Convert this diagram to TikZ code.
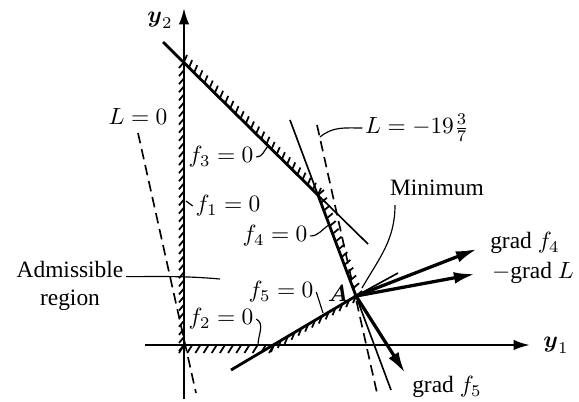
\documentclass[tikz,border=0pt]{standalone}
\usepackage{amsmath}
\usepackage{fontspec}
\setmainfont{Liberation Serif}
\usetikzlibrary{calc,arrows.meta}

% short strokes along a constraint line: ends, count, offset
\newcommand{\hatchseg}[4]{%
  \foreach \k in {0,...,#3}{
    \pgfmathsetmacro\hpos{\k/#3}
    \draw[hatch] ($(#1)!\hpos!(#2)$) -- ++(#4);
  }}

\begin{document}
\begin{tikzpicture}[x=0.15mm,y=-0.15mm,>=latex,
    axis/.style={line width=1pt,-{Latex[length=7pt,width=4.5pt]}},
    cons/.style={line width=1.2pt},
    thinline/.style={line width=0.7pt},
    hatch/.style={line width=0.75pt},
    level/.style={line width=0.7pt,dash pattern=on 4.5pt off 2.5pt},
    lead/.style={line width=0.5pt},
    grad/.style={line width=1.4pt,-{Latex[length=9pt,width=5pt]}},
    lab/.style={inner sep=1pt}]
  \useasboundingbox (0,0) rectangle (579,401);
  % corner points of the region
  \coordinate (O) at (184,345);
  \coordinate (P) at (184,62);
  \coordinate (B) at (318,195);
  \coordinate (A) at (356,296);
  \coordinate (C) at (274,345);
  % axes
  \coordinate (y1s) at (145,345);
  \coordinate (y1e) at (530,345);
  \coordinate (y2s) at (184,399);
  \coordinate (y2e) at (184,8);
  \draw[axis] (y1s) -- (y1e);
  \draw[axis] (y2s) -- (y2e);
  \node[lab] (y1) at (556,345) {$\boldsymbol{y}_1$};
  \node[lab] (y2) at (160,20) {$\boldsymbol{y}_2$};
  % constraint lines
  \coordinate (f3s) at (163,42);
  \coordinate (f3e) at (368,244);
  \coordinate (f4s) at (290,120);
  \coordinate (f4e) at (391,390);
  \coordinate (f5s) at (231,370);
  \coordinate (f5e) at (398,273);
  \draw[cons] (f3s) -- (B);
  \draw[thinline] (B) -- (f3e);
  \draw[thinline] (f4s) -- (B);
  \draw[cons] (B) -- (A);
  \draw[thinline] (A) -- (f4e);
  \draw[cons] (f5s) -- (A);
  \draw[thinline] (A) -- (f5e);
  % hatching on the outer side
  \hatchseg{O}{P}{35}{-5,6}
  \hatchseg{O}{C}{11}{-5,8}
  \hatchseg{P}{B}{26}{3,-7}
  \hatchseg{B}{A}{13}{6,-5}
  \hatchseg{C}{A}{12}{-3,7}
  % level lines of L
  \coordinate (L0s) at (138,133);
  \coordinate (L0e) at (196,393);
  \coordinate (Lms) at (317,125);
  \coordinate (Lme) at (377,393);
  \draw[level] (L0s) -- (L0e);
  \draw[level] (Lms) -- (Lme);
  % gradients at the minimum
  \coordinate (gf4) at (477,249);
  \coordinate (gL) at (475,274);
  \coordinate (gf5) at (405,373);
  \draw[grad] (A) -- (gf4);
  \draw[grad] (A) -- (gL);
  \draw[grad] (A) -- (gf5);
  \fill (A) circle (2.5);
  % labels
  \node[lab] (l0) at (138,116) {$L=0$};
  \node[lab] (lf3) at (221,157) {$f_3=0$};
  \node[lab] (lf1) at (228,206) {$f_1=0$};
  \node[lab] (lf4) at (275,236) {$f_4=0$};
  \node[lab,align=center] (adm) at (70,286) {Admissible\\region};
  \node[lab] (lf2) at (221,319) {$f_2=0$};
  \node[lab] (lf5) at (281,292) {$f_5=0$};
  \node[lab] (la) at (338,293) {$\boldsymbol{A}$};
  \node[lab] (lm) at (417,128) {$L=-19\genfrac{}{}{0.4pt}{}{3}{7}$};
  \node[lab] (min) at (437,188) {Minimum};
  \node[lab] (lgf4) at (525,243) {grad $f_4$};
  \node[lab] (lgL) at (533,273) {$-$grad $L$};
  \node[lab] (lgf5) at (447,387) {grad $f_5$};
  % leaders
  \coordinate (f3pt) at (268,146);
  \coordinate (f1pt) at (186,201);
  \coordinate (f4pt) at (329,225);
  \coordinate (admpt) at (220,279);
  \coordinate (f2pt) at (258,345);
  \coordinate (f5pt) at (323,313);
  \coordinate (Lmpt) at (320,137);
  \coordinate (minst) at (395,205);
  \coordinate (minpt) at (362,288);
  \draw[lead] (lf3.east) to[out=0,in=-130] (f3pt);
  \draw[lead] (lf1.west) -- (f1pt);
  \draw[lead] (lf4.east) to[out=0,in=-150] (f4pt);
  \draw[lead] ([yshift=4pt]adm.east) to[out=0,in=175] (admpt);
  \draw[lead] (lf2.east) to[out=-30,in=90] (f2pt);
  \draw[lead] (lf5.east) -- (f5pt);
  \draw[lead] (lm.west) to[out=180,in=40] (Lmpt);
  \draw[lead] (minst) to[out=-90,in=60] (minpt);
\end{tikzpicture}
\end{document}
